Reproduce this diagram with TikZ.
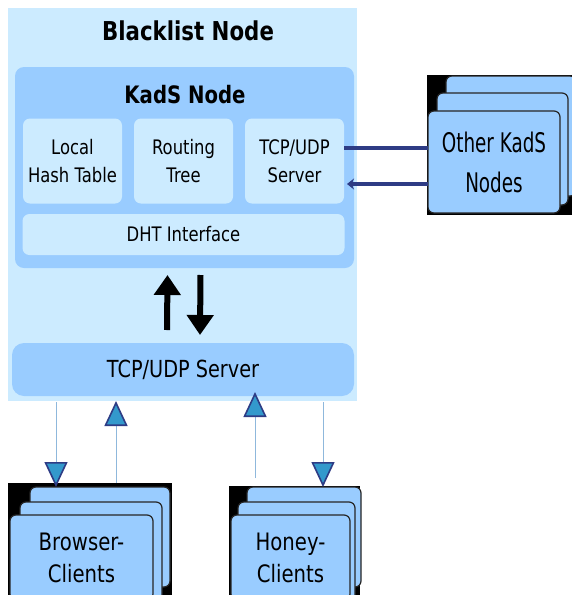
\documentclass[tikz,border=0pt]{standalone}
\usepackage{fontspec}
\setmainfont[FakeStretch=0.82]{DejaVu Sans}
\newfontfamily\narrowface[FakeStretch=0.68]{DejaVu Sans}
\usetikzlibrary{arrows.meta,positioning,calc}
\definecolor{cPale}{HTML}{CCEBFF}
\definecolor{cMid} {HTML}{99CCFF}
\definecolor{cNavy}{HTML}{2E3C85}
\definecolor{cHead}{HTML}{3399CC}
\definecolor{cThin}{HTML}{8FB8DC}
\tikzset{
  shell/.style  ={fill=cPale,inner sep=0pt},
  kads/.style   ={fill=cMid,rounded corners=9pt,inner sep=0pt},
  part/.style   ={fill=cPale,rounded corners=7pt,align=center,inner sep=0pt,
                  minimum width=99pt,minimum height=85pt,
                  font=\fontsize{20}{28}\selectfont},
  card/.style   ={fill=cMid,draw=black!85,line width=1.2pt,rounded corners=6pt,
                  inner sep=0pt,align=center},
  deck/.style   ={fill=black,inner sep=0pt},
  ttl/.style    ={font=\bfseries\fontsize{26}{30}\selectfont},
  link/.style   ={draw=cNavy,line width=3.5pt},
  wire/.style   ={draw=cThin,line width=0.8pt,
                  -{Triangle[length=25pt,width=23pt,fill=cHead,color=cNavy,line width=1.6pt]}},
  bold/.style   ={draw=black,line width=6pt,-{Triangle[length=20pt,width=26pt]}},
}

\begin{document}
\begin{tikzpicture}[x=1pt,y=-1pt,every node/.style={outer sep=0pt}]
\useasboundingbox (0,0) rectangle (572,595);

% ---------------- blacklist node -----------------------------------------
\node[shell,minimum width=349pt,minimum height=393pt,anchor=north west] (bl) at (8,8) {};
\node[ttl] (blt) at (188,31) {Blacklist Node};

\node[kads,minimum width=339pt,minimum height=201pt,anchor=north west] (kads) at (15,67) {};
\node[ttl,font=\bfseries\fontsize{24}{30}\selectfont] (kt) at (185,95) {KadS Node};
\node[part] (lht) at (72.5,161) {Local\\Hash Table};
\node[part,right=12pt of lht] (rt)  {Routing\\Tree};
\node[part,right=12pt of rt]  (tcp) {TCP/UDP\\Server};
\node[part,minimum width=322pt,minimum height=41pt,font=\fontsize{20}{24}\selectfont]
  (dht) at (183.5,234.5) {DHT Interface};

\node[kads,rounded corners=12pt,minimum width=342pt,minimum height=53pt,
      font=\fontsize{23.5}{28}\selectfont] (srv) at (183,369.5) {TCP/UDP Server};

% ---------------- stacked peers ------------------------------------------
\node[deck,minimum width=145pt,minimum height=140pt,anchor=north west] (okbg) at (427,75) {};
\node[card,minimum width=130pt,minimum height=120pt,anchor=north west] at (446,76) {};
\node[card,minimum width=131pt,minimum height=112pt,anchor=north west] at (437,93) {};
\node[card,minimum width=132pt,minimum height=102pt,anchor=north west,
      font=\narrowface\fontsize{27}{40}\selectfont] (ok) at (428,111) {Other KadS\\Nodes};

\node[deck,minimum width=164pt,minimum height=112pt,anchor=north west] (bcbg) at (8,483) {};
\node[card,minimum width=140pt,minimum height=100pt,anchor=north west] (bback) at (30,487) {};
\node[card,minimum width=142pt,minimum height=100pt,anchor=north west] at (20,502) {};
\node[card,minimum width=143pt,minimum height=85pt,anchor=north west,
      font=\fontsize{24}{32}\selectfont] (bc) at (10,515) {Browser-\\Clients};

\node[deck,minimum width=131pt,minimum height=109pt,anchor=north west] (hcbg) at (229,486) {};
\node[card,minimum width=114pt,minimum height=100pt,anchor=north west] (hback) at (247,487) {};
\node[card,minimum width=117pt,minimum height=100pt,anchor=north west] at (238,502) {};
\node[card,minimum width=119pt,minimum height=85pt,anchor=north west,
      font=\fontsize{24}{32}\selectfont] (hc) at (231,515) {Honey-\\Clients};

% ---------------- connectors ---------------------------------------------
\coordinate (tx) at ($(tcp.east)+(0,-13)$);
\coordinate (rx) at ($(tcp.east)+(3,23)$);
\draw[link] (tx) -- (tx -| ok.west);
\draw[link,-{Stealth[length=7pt,width=11pt]}] (rx -| ok.west) -- (rx);

\draw[bold] ($(srv.north)+(-16,-13)$) -- ($(kads.south)+(-17,7)$);
\draw[bold] ($(kads.south)+(16,7)$) -- ($(srv.north)+(17,-8)$);

\coordinate (bdn) at ($(bl.south west)+(48,1)$);
\coordinate (bup) at ($(bcbg.north west)+(108,0)$);
\coordinate (hup) at ($(hcbg.north west)+(26,-8)$);
\coordinate (hdn) at ($(bl.south west)+(315,1)$);
\draw[wire] (bdn) -- (bdn |- bback.north);
\draw[wire] (bup) -- (bup |- bl.south);
\draw[wire] (hup) -- ($(hup |- srv.south)+(0,-4)$);
\draw[wire] (hdn) -- (hdn |- hback.north);
\end{tikzpicture}
\end{document}
